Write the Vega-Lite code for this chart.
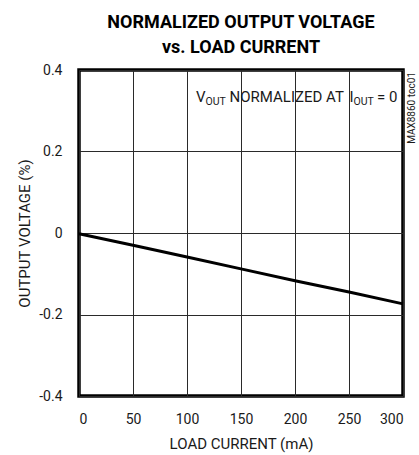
{
  "$schema": "https://vega.github.io/schema/vega-lite/v6.json",
  "autosize": {"type": "none"},
  "padding": {"left": 79, "top": 70, "right": 16, "bottom": 59},
  "width": 324,
  "height": 326,
  "background": "white",
  "title": {
    "text": ["NORMALIZED OUTPUT VOLTAGE", "vs. LOAD CURRENT"],
    "font": "Roboto",
    "fontSize": 18,
    "fontWeight": "bold",
    "color": "black",
    "lineHeight": 25,
    "anchor": "middle",
    "offset": 6
  },
  "config": {
    "view": {"stroke": "black", "strokeWidth": 3.5},
    "font": "Roboto",
    "axis": {
      "domain": false,
      "ticks": false,
      "grid": true,
      "gridColor": "#2a2a2a",
      "gridWidth": 1,
      "gridOpacity": 1,
      "labelFont": "Roboto",
      "labelFontSize": 14,
      "labelColor": "#1a1a1a",
      "titleFont": "Roboto",
      "titleFontSize": 15,
      "titleFontWeight": "normal",
      "titleColor": "#1a1a1a"
    }
  },
  "datasets": {
    "curve": [
      {"current": 0, "vout": -0.002},
      {"current": 50, "vout": -0.030},
      {"current": 100, "vout": -0.059},
      {"current": 150, "vout": -0.088},
      {"current": 200, "vout": -0.117},
      {"current": 250, "vout": -0.145},
      {"current": 300, "vout": -0.174}
    ],
    "notes": [
      {"current": 108.3, "vout": 0.321, "label": "V"},
      {"current": 139.4, "vout": 0.321, "label": "NORMALIZED AT"},
      {"current": 250.5, "vout": 0.321, "label": "I"},
      {"current": 275.9, "vout": 0.321, "label": "= 0"}
    ],
    "subs": [
      {"current": 117.1, "vout": 0.314, "label": "OUT"},
      {"current": 254.2, "vout": 0.314, "label": "OUT"}
    ],
    "tag": [
      {"current": 308.3, "vout": 0.307, "label": "MAX8860 toc01"}
    ]
  },
  "layer": [
    {
      "data": {"name": "curve"},
      "mark": {"type": "line", "color": "black", "strokeWidth": 3},
      "encoding": {
        "x": {
          "field": "current",
          "type": "quantitative",
          "title": "LOAD CURRENT (mA)",
          "scale": {"domain": [0, 300], "nice": false},
          "axis": {
            "values": [0, 50, 100, 150, 200, 250, 300],
            "labelPadding": 16,
            "titlePadding": 10,
            "labelExpr": "'' + datum.value"
          }
        },
        "y": {
          "field": "vout",
          "type": "quantitative",
          "title": "OUTPUT VOLTAGE (%)",
          "scale": {"domain": [-0.4, 0.4], "nice": false, "zero": false},
          "axis": {
            "values": [-0.4, -0.2, 0, 0.2, 0.4],
            "labelPadding": 17,
            "titlePadding": 6,
            "labelExpr": "'' + datum.value"
          }
        }
      }
    },
    {
      "data": {"name": "notes"},
      "mark": {"type": "text", "align": "left", "baseline": "alphabetic", "font": "Roboto", "fontSize": 15, "color": "#1a1a1a"},
      "encoding": {
        "x": {"field": "current", "type": "quantitative"},
        "y": {"field": "vout", "type": "quantitative"},
        "text": {"field": "label"}
      }
    },
    {
      "data": {"name": "subs"},
      "mark": {"type": "text", "align": "left", "baseline": "alphabetic", "font": "Roboto", "fontSize": 10.5, "color": "#1a1a1a"},
      "encoding": {
        "x": {"field": "current", "type": "quantitative"},
        "y": {"field": "vout", "type": "quantitative"},
        "text": {"field": "label"}
      }
    },
    {
      "data": {"name": "tag"},
      "mark": {"type": "text", "align": "center", "baseline": "middle", "angle": 270, "font": "Roboto", "fontSize": 10, "color": "#1a1a1a"},
      "encoding": {
        "x": {"field": "current", "type": "quantitative"},
        "y": {"field": "vout", "type": "quantitative"},
        "text": {"field": "label"}
      }
    }
  ]
}
